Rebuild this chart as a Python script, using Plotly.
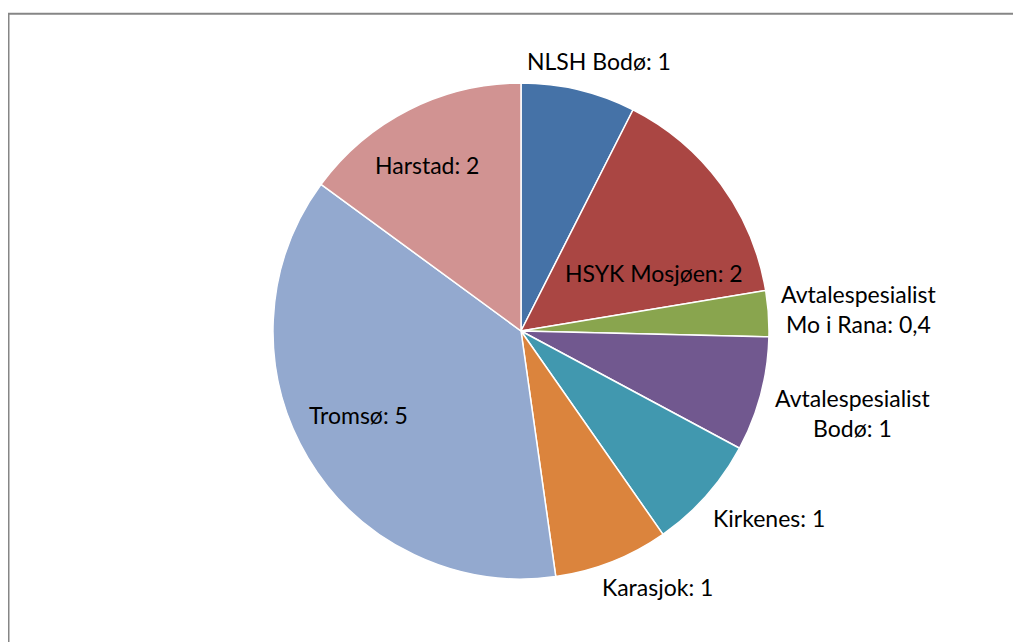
import plotly.graph_objects as go

# ---- data ----
labels = ["NLSH Bodø", "HSYK Mosjøen", "Avtalespesialist<br>Mo i Rana",
          "Avtalespesialist<br>Bodø", "Kirkenes", "Karasjok", "Tromsø", "Harstad"]
values = [1, 2, 0.4, 1, 1, 1, 5, 2]
value_text = ["1", "2", "0,4", "1", "1", "1", "5", "2"]

# ---- style ----
colors = ["#4572A7", "#AA4643", "#89A54E", "#71588F", "#4198AF", "#DB843D", "#93A9CF", "#D19392"]
# label centre positions in page pixels (Excel "best fit" placement)
label_px = [(599, 61), (654, 273), (859, 309), (853, 413),
            (769, 518), (657, 587), (358, 415), (427, 165)]

OFF = 8                      # default page body margin
W, H = 1013, 634             # figure size (viewport minus body margin)
cx, cy, r = 521 - OFF, 331 - OFF, 248

fig = go.Figure(go.Pie(
    labels=labels, values=values, sort=False, direction="clockwise", rotation=0,
    marker=dict(colors=colors, line=dict(color="white", width=1.5)),
    textinfo="none", showlegend=False, hoverinfo="label+value",
    domain=dict(x=[(cx - r) / W, (cx + r) / W], y=[(H - cy - r) / H, (H - cy + r) / H]),
))

annotations = []
for lab, vt, (px, py) in zip(labels, value_text, label_px):
    annotations.append(dict(
        text=f"{lab}: {vt}", xref="paper", yref="paper",
        x=(px - OFF) / W, y=1 - (py - OFF) / H, xanchor="center", yanchor="middle",
        showarrow=False, align="center",
        font=dict(family="Lato", size=23, color="#000000"),
    ))

fig.update_layout(
    width=W, height=H, margin=dict(l=0, r=0, t=0, b=0),
    paper_bgcolor="white", annotations=annotations,
    shapes=[dict(type="rect", xref="paper", yref="paper",
                 x0=0.5 / W, x1=1.05, y0=-0.05, y1=1 - 5.7 / H,
                 line=dict(color="#868686", width=2), fillcolor="rgba(0,0,0,0)")],
)
fig.write_html("out.html")
